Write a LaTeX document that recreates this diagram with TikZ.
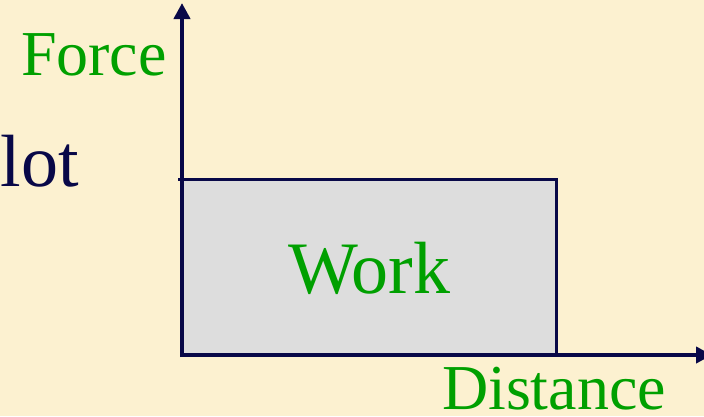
\documentclass[tikz,border=0pt]{standalone}
\usepackage{fontspec}
\setmainfont{Liberation Serif}
\usetikzlibrary{arrows.meta}
\definecolor{bg}{RGB}{252,241,208}
\definecolor{navy}{RGB}{8,8,72}
\definecolor{grn}{RGB}{0,160,0}
\definecolor{boxgray}{RGB}{221,221,221}
\begin{document}
\begin{tikzpicture}[x=1pt,y=-1pt,
  axis/.style={draw=navy,line width=4pt,-{Triangle[length=16pt,width=16pt]}},
  lbl/.style={anchor=base west,inner sep=0pt,outer sep=0pt},
  bigtxt/.style={font=\fontsize{64}{70}\selectfont},
  hugetxt/.style={font=\fontsize{74}{80}\selectfont}]
\fill[bg] (0,0) rectangle (704,416);
\useasboundingbox (0,0) rectangle (704,416);
% work area
\coordinate (o) at (182,355);
\coordinate (tl) at (178,179.5);
\coordinate (br) at (556.5,355);
\fill[boxgray] (182,179.5) rectangle (br);
\draw[navy,line width=3.5pt] (tl) -- (556.5,179.5) -- (br);
% axes
\coordinate (ytip) at (182,3);
\coordinate (xtip) at (712,355);
\coordinate (ybot) at (182,357);
\coordinate (xleft) at (180,355);
\draw[axis] (ybot) -- (ytip);
\draw[axis] (xleft) -- (xtip);
% labels
\node[lbl,bigtxt,text=grn] (force) at (21,75) {Force};
\node[lbl,hugetxt,text=navy] (lot) at (1,186) {lot};
\node[lbl,hugetxt,text=grn] (work) at (288,293) {Work};
\node[lbl,bigtxt,text=grn] (dist) at (442,409) {Distance};
\end{tikzpicture}
\end{document}
